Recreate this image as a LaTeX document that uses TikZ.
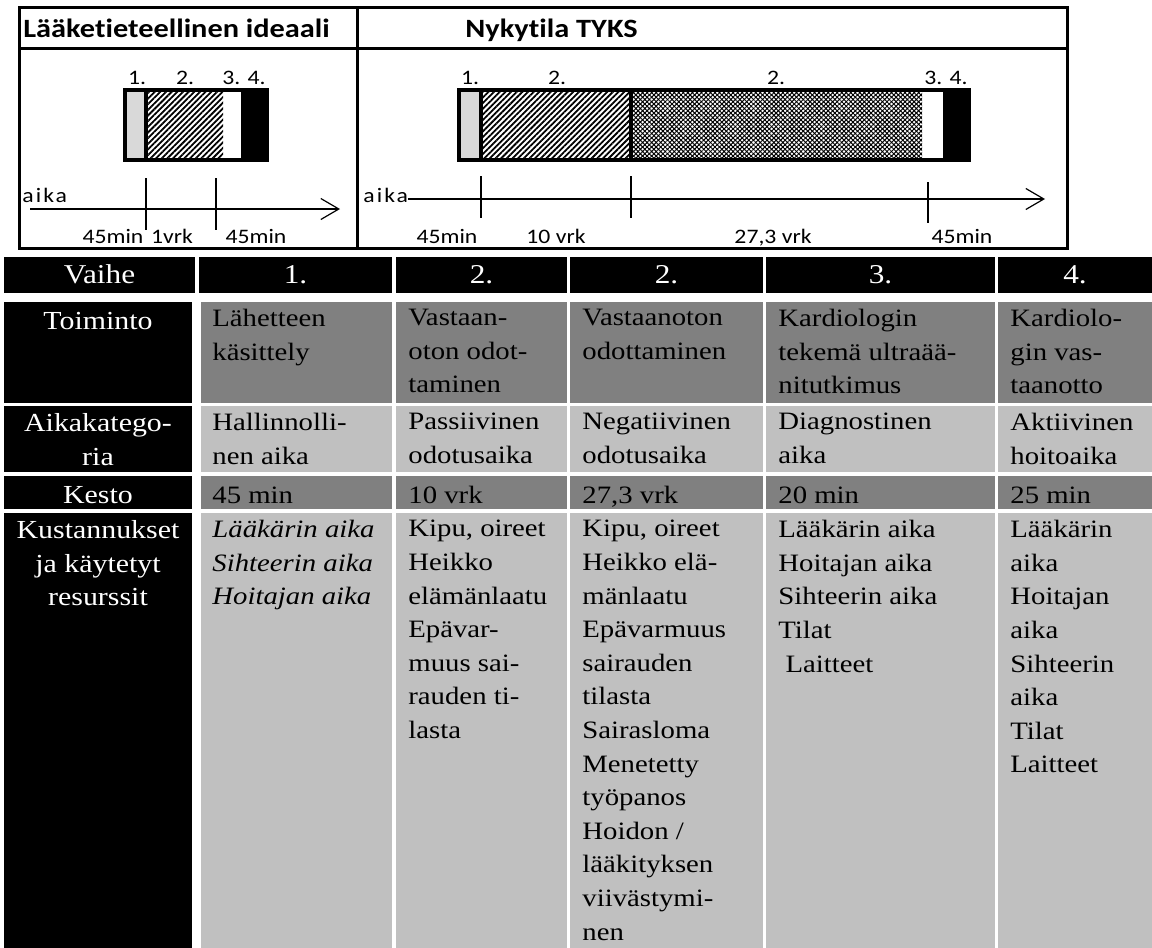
\documentclass[tikz,border=0pt]{standalone}
\usepackage{fontspec}
\setmainfont{Liberation Serif}[FakeStretch=1.15]
\setsansfont{Carlito}[FakeStretch=1.15, Ligatures={NoCommon,NoContextual}, Contextuals=NoAlternate]
\usetikzlibrary{arrows.meta,patterns.meta}

\definecolor{darkcell}{HTML}{808080}
\definecolor{lightcell}{HTML}{C0C0C0}
\definecolor{firstseg}{HTML}{D9D9D9}

\tikzset{
  hatch/.style={pattern={Lines[angle=45,distance=2pt,line width=0.9pt]}},
  crossa/.style={pattern={Lines[angle=45,distance=1.6pt,line width=0.5pt]}},
  crossb/.style={pattern={Lines[angle=-45,distance=1.6pt,line width=0.5pt]}}
}

\begin{document}
\begin{tikzpicture}
    [x=0.5pt, y=-0.5pt, every node/.style={inner sep=0pt},
     frame/.style={line width=1.5pt},
     barline/.style={line width=2pt},
     title/.style={anchor=base west, font=\sffamily\bfseries\fontsize{13.2}{16}\selectfont},
     lbl/.style={anchor=base, font=\sffamily\fontsize{10.3}{12}\selectfont},
     timelbl/.style={anchor=base west, font=\sffamily\fontsize{10.3}{12}\selectfont\addfontfeature{LetterSpace=10}},
     axis/.style={line width=0.6pt, -{Straight Barb[length=9pt,width=10.5pt]}},
     tick/.style={line width=0.6pt},
     head/.style={anchor=base, text=white, font=\fontsize{13.6}{16}\selectfont},
     rowlbl/.style={anchor=north, align=center, text=white, font=\fontsize{13}{16.8}\selectfont,
       execute at begin node=\rule{0pt}{10pt}},
     cell/.style={anchor=north west, align=left, font=\fontsize{12.5}{16.8}\selectfont,
       execute at begin node=\rule{0pt}{10pt}}]
    \useasboundingbox (0,0) rectangle (1152,948);

    % top: ideal and current state
    \draw[frame] (19,7.5) rectangle (357,248.5);
    \draw[frame] (357,7.5) rectangle (1067,248.5);
    \draw[frame] (19,48) -- (1067,48);
    \node[title] (ideal) at (23,37) {Lääketieteellinen ideaali};
    \node[title] (now) at (465,37) {Nykytila TYKS};

    % ideal bar
    \fill[firstseg] (125,90) rectangle (146,160);
    \fill[hatch] (146,90) rectangle (223,160);
    \fill (241,90) rectangle (267,160);
    \draw[barline] (125,90) rectangle (267,160);
    \draw[barline] (146,90) -- (146,160);
    \foreach \x/\t [count=\i] in {137/1., 185/2., 244/3. 4.}
      \node[lbl] (ip\i) at (\x,84) {\t};
    \node[timelbl] (aikaL) at (22,202) {aika};
    \coordinate (axL0) at (30,209);
    \coordinate (axL1) at (340,209);
    \draw[axis] (axL0) -- (axL1);
    \foreach \x in {146,216}
      \draw[tick] (\x,178) -- (\x,230);
    \foreach \x/\t [count=\i] in {113/45min, 172/1vrk, 256/45min}
      \node[lbl] (it\i) at (\x,243) {\t};

    % current bar
    \fill[firstseg] (459,90) rectangle (481,160);
    \fill[hatch] (481,90) rectangle (631,160);
    \fill[crossa] (631,90) rectangle (922,160);
    \fill[crossb] (631,90) rectangle (922,160);
    \fill (943,90) rectangle (969,160);
    \draw[barline] (459,90) rectangle (969,160);
    \draw[barline] (481,90) -- (481,160);
    \draw[barline] (631,90) -- (631,160);
    \foreach \x/\t [count=\i] in {470/1., 557/2., 776/2., 946/3. 4.}
      \node[lbl] (np\i) at (\x,84) {\t};
    \node[timelbl] (aikaR) at (363,202) {aika};
    \coordinate (axR0) at (408,199);
    \coordinate (axR1) at (1045,199);
    \draw[axis] (axR0) -- (axR1);
    \draw[tick] (481,176) -- (481,218);
    \draw[tick] (631,176) -- (631,218);
    \draw[tick] (928,182) -- (928,223);
    \foreach \x/\t [count=\i] in {447/45min, 556/10 vrk, 773/{27,3 vrk}, 962/45min}
      \node[lbl] (nt\i) at (\x,243) {\t};

    % table cells
    \foreach \a/\b in {4/195, 199/392, 396/567, 570/763, 766/995, 998/1152}
      \fill (\a,257) rectangle (\b,293);
    \foreach \top/\bot/\col in {302/403/darkcell, 406/472/lightcell, 476/509/darkcell, 513/948/lightcell}{
      \fill (4,\top) rectangle (192,\bot);
      \foreach \a/\b in {201/392, 396/567, 570/763, 766/995, 998/1152}
        \fill[\col] (\a,\top) rectangle (\b,\bot);
    }

    % header row
    \foreach \x/\t [count=\i] in {99.5/Vaihe, 295.5/1., 481.5/2., 666.5/2., 880.5/3., 1075/4.}
      \node[head] (h\i) at (\x,283) {\t};

    % row labels
    \node[rowlbl] (rToim) at (98,309) {Toiminto};
    \node[rowlbl] (rKat) at (98,413) {Aikakatego-\\ria};
    \node[rowlbl] (rKesto) at (98,483) {Kesto};
    \node[rowlbl] (rKust) at (98,520) {Kustannukset\\ja käytetyt\\resurssit};

    % Toiminto
    \node[cell] (t1) at (212,309) {Lähetteen\\käsittely};
    \node[cell] (t2) at (408,309) {Vastaan-\\oton odot-\\taminen};
    \node[cell] (t3) at (582,309) {Vastaanoton\\odottaminen};
    \node[cell] (t4) at (778,309) {Kardiologin\\tekemä ultraää-\\nitutkimus};
    \node[cell] (t5) at (1010,309) {Kardiolo-\\gin vas-\\taanotto};

    % Aikakategoria
    \node[cell] (k1) at (212,413) {Hallinnolli-\\nen aika};
    \node[cell] (k2) at (408,413) {Passiivinen\\odotusaika};
    \node[cell] (k3) at (582,413) {Negatiivinen\\odotusaika};
    \node[cell] (k4) at (778,413) {Diagnostinen\\aika};
    \node[cell] (k5) at (1010,413) {Aktiivinen\\hoitoaika};

    % Kesto
    \node[cell] (d1) at (212,483) {45 min};
    \node[cell] (d2) at (408,483) {10 vrk};
    \node[cell] (d3) at (582,483) {27,3 vrk};
    \node[cell] (d4) at (778,483) {20 min};
    \node[cell] (d5) at (1010,483) {25 min};

    % Kustannukset
    \node[cell, font=\itshape\fontsize{12.5}{16.8}\selectfont] (c1) at (212,520)
      {Lääkärin aika\\Sihteerin aika\\Hoitajan aika};
    \node[cell] (c2) at (408,520)
      {Kipu, oireet\\Heikko\\elämänlaatu\\Epävar-\\muus sai-\\rauden ti-\\lasta};
    \node[cell] (c3) at (582,520)
      {Kipu, oireet\\Heikko elä-\\mänlaatu\\Epävarmuus\\sairauden\\tilasta\\Sairasloma\\Menetetty\\työpanos\\Hoidon /\\lääkityksen\\viivästymi-\\nen};
    \node[cell] (c4) at (778,520)
      {Lääkärin aika\\Hoitajan aika\\Sihteerin aika\\Tilat\\\ Laitteet};
    \node[cell] (c5) at (1010,520)
      {Lääkärin\\aika\\Hoitajan\\aika\\Sihteerin\\aika\\Tilat\\Laitteet};
  \end{tikzpicture}
\end{document}
